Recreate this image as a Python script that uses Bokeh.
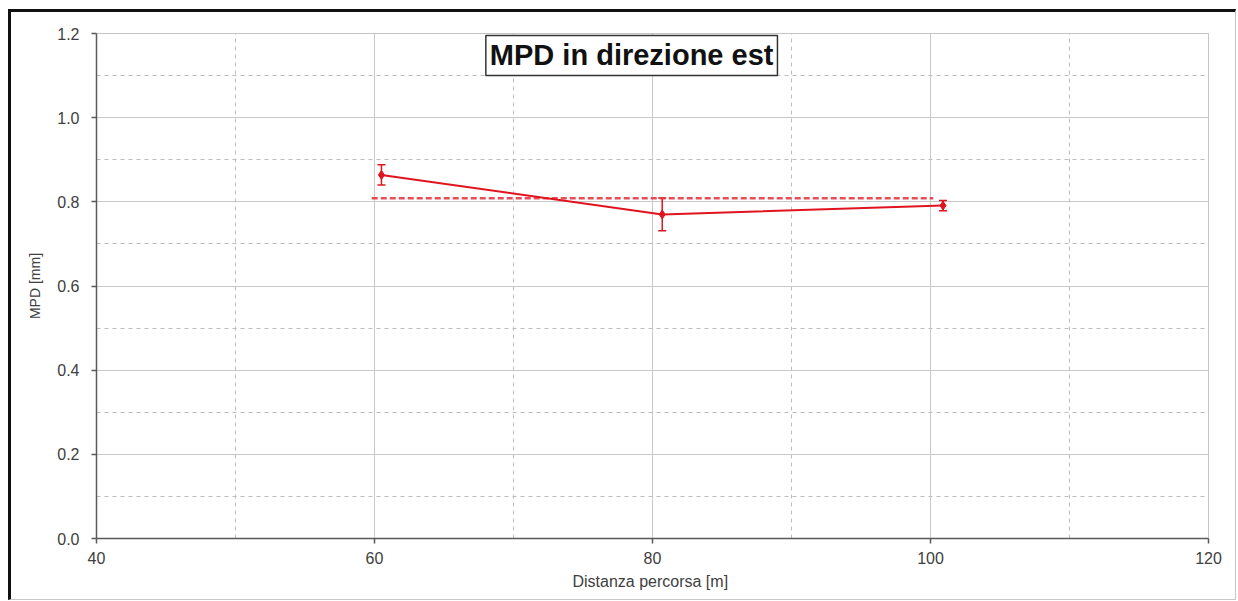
from bokeh.plotting import figure
from bokeh.models import (Range1d, FixedTicker, PrintfTickFormatter,
                          ColumnDataSource, Whisker, TeeHead, Label)
from bokeh.embed import file_html
from bokeh.resources import INLINE
import numpy as np

# ---- data ----
distance = [60.5, 80.7, 100.9]          # Distanza percorsa [m]
mpd = [0.864, 0.770, 0.791]             # MPD [mm]
mpd_err = [0.024, 0.039, 0.012]         # +/- deviation
mean_extent = [59.8, 100.2]             # span of the mean line
x_ticks = [40, 60, 80, 100, 120]
x_minor = [50, 70, 90, 110]
y_ticks = [0.0, 0.2, 0.4, 0.6, 0.8, 1.0, 1.2]
y_minor = [0.1, 0.3, 0.5, 0.7, 0.9, 1.1]
title_text = "MPD in direzione est"
x_label = "Distanza percorsa  [m]"
y_label = "MPD [mm]"

RED = "#e0141e"
FONT = "Liberation Sans"

p = figure(width=1228, height=591, output_backend="svg", toolbar_location=None,
           x_range=Range1d(40, 120), y_range=Range1d(0, 1.2),
           min_border_left=85, min_border_right=31, min_border_top=21,
           min_border_bottom=65)
p.styles = {"border-top": "3px solid #111", "border-left": "3px solid #111",
            "border-right": "1px solid #c8c8c8", "border-bottom": "1px solid #c8c8c8",
            "margin-left": "8px", "margin-top": "9px"}

p.outline_line_color = "#c4c4c4"
p.outline_line_width = 1
p.background_fill_color = "white"
p.border_fill_color = "white"

p.xaxis.ticker = FixedTicker(ticks=x_ticks, minor_ticks=x_minor)
p.yaxis.ticker = FixedTicker(ticks=y_ticks, minor_ticks=y_minor)
p.xgrid.ticker = p.xaxis.ticker
p.ygrid.ticker = p.yaxis.ticker
p.yaxis.formatter = PrintfTickFormatter(format="%.1f")

for g in (p.xgrid, p.ygrid):
    g.grid_line_color = "#c8c8c8"
    g.grid_line_width = 1
    g.minor_grid_line_color = "#bdbdbd"
    g.minor_grid_line_dash = "4 4"
    g.minor_grid_line_width = 1

for ax in (p.xaxis, p.yaxis):
    ax.axis_line_color = "#5a5a5a"
    ax.axis_line_width = 1.5
    ax.major_tick_line_color = "#5a5a5a"
    ax.major_tick_line_width = 1.5
    ax.major_tick_in = 0
    ax.major_tick_out = 5
    ax.minor_tick_line_color = None
    ax.major_label_text_font = FONT
    ax.major_label_text_font_size = "16px"
    ax.major_label_text_color = "#404040"
    ax.axis_label_text_font = FONT
    ax.axis_label_text_font_style = "normal"
    ax.axis_label_text_color = "#404040"

p.xaxis.axis_label = x_label
p.yaxis.axis_label = y_label
p.xaxis.axis_label_text_font_size = "16px"
p.yaxis.axis_label_text_font_size = "14px"
p.xaxis.major_label_standoff = 8
p.yaxis.major_label_standoff = 12
p.xaxis.axis_label_standoff = 6
p.yaxis.axis_label_standoff = 11

# mean line
mean_val = float(np.mean(mpd))
p.line(mean_extent, [mean_val, mean_val], line_color="#e33a45", line_width=2.5,
       line_dash="6 3", line_alpha=0.9)

# series
src = ColumnDataSource(dict(x=distance, y=mpd,
                            upper=[m + e for m, e in zip(mpd, mpd_err)],
                            lower=[m - e for m, e in zip(mpd, mpd_err)]))
p.line("x", "y", source=src, line_color=RED, line_width=2)
w = Whisker(source=src, base="x", upper="upper", lower="lower", dimension="height",
            line_color=RED, line_width=1.5,
            upper_head=TeeHead(size=8, line_color=RED, line_width=1.5),
            lower_head=TeeHead(size=8, line_color=RED, line_width=1.5))
p.add_layout(w)
p.scatter("x", "y", source=src, marker="diamond", size=9, fill_color=RED,
          line_color=RED)

# title box
p.add_layout(Label(x=78.5, y=1.148, text=title_text, text_align="center",
                   text_baseline="middle", text_font=FONT, text_font_size="29px",
                   text_font_style="bold", text_color="#111",
                   background_fill_color="white", border_line_color="#333",
                   border_line_width=1.5, padding=4))

open("out.html", "w").write(file_html(p, INLINE))
